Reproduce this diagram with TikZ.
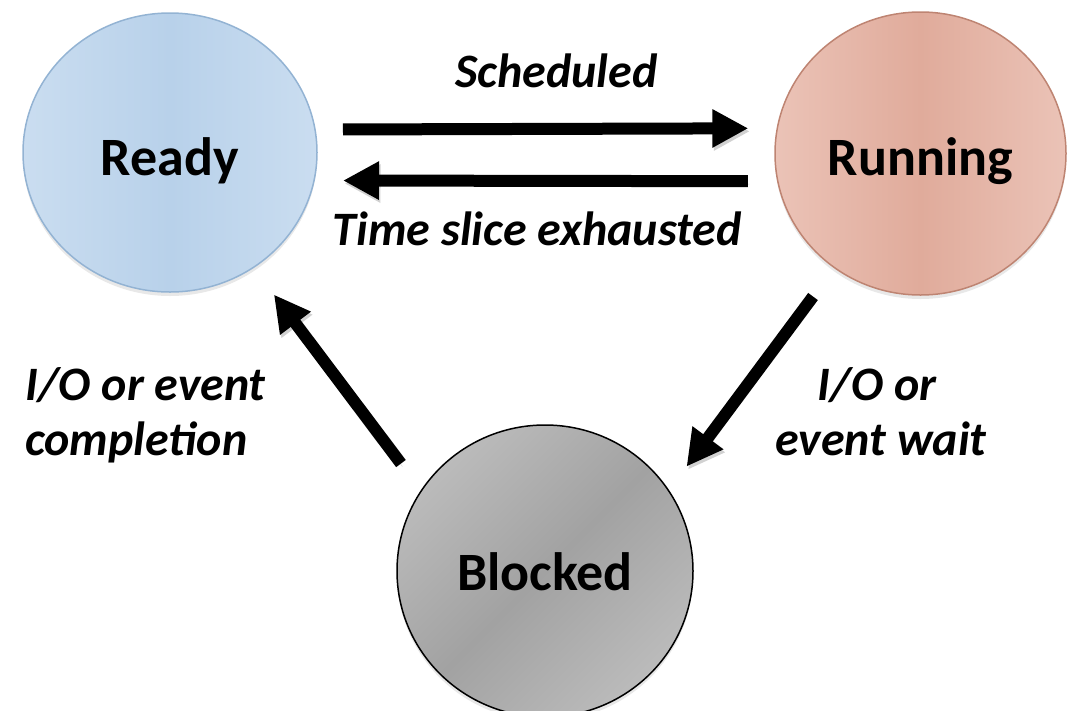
\documentclass[tikz,border=0pt]{standalone}
\usepackage{fontspec}
\setmainfont{Carlito}
\usetikzlibrary{arrows.meta,shapes.geometric,shadows}

\definecolor{readyedge}{HTML}{93B3D3}
\definecolor{readylight}{HTML}{CADDF0}
\definecolor{readymid}{HTML}{B8D1EA}
\definecolor{runedge}{HTML}{BE8472}
\definecolor{runlight}{HTML}{EBC3B7}
\definecolor{runmid}{HTML}{E0AB9B}
\definecolor{blocklight}{HTML}{BBBBBB}
\definecolor{blockmid}{HTML}{A2A2A2}

\begin{document}
\begin{tikzpicture}[x=1pt,y=-1pt,
  state/.style={ellipse, inner sep=0pt, outer sep=0pt, line width=1.5pt,
    font=\fontsize{54}{62}\selectfont\bfseries, text depth=0pt,
    drop shadow={opacity=0.18, shadow xshift=0pt, shadow yshift=-4pt}},
  flow/.style={line width=12pt, -{Triangle[length=36pt,width=36pt]},
    preaction={draw=black, opacity=0.18, -{Triangle[length=36pt,width=36pt]},
      transform canvas={shift={(1.5pt,-3pt)}}}},
  lbl/.style={font=\fontsize{48}{54}\selectfont\bfseries\itshape, inner sep=0pt}]

\useasboundingbox (0,0) rectangle (1071,710);

% the three process states
\node[state, draw=readyedge, left color=readylight, right color=readylight, middle color=readymid,
  minimum width=294pt, minimum height=279pt, text height=45pt] (ready) at (170,152.5) {Ready};
\node[state, draw=runedge, left color=runlight, right color=runlight, middle color=runmid,
  minimum width=291pt, minimum height=283pt, text height=43pt] (running) at (920.5,153.5) {Running};
\node[state, draw=black, left color=blocklight, right color=blocklight, middle color=blockmid,
  shading angle=45,
  minimum width=296pt, minimum height=292pt, text height=38pt] (blocked) at (545,571) {Blocked};

% transitions
\draw[flow, shorten <=28pt, shorten >=29pt] (ready.9.2) -- (running.170.3);
\draw[flow, shorten <=30pt, shorten >=29pt] (running.-169.1) -- (ready.-11.2);
\draw[flow, shorten <=34pt, shorten >=34pt] (blocked.147.7) -- (ready.-54.35);
\draw[flow, shorten <=36pt, shorten >=30pt] (running.-127.47) -- (blocked.33.32);

% transition labels
\node[lbl, anchor=base] (lsched) at (556.5,87) {Scheduled};
\node[lbl, anchor=base] (lslice) at (537,245) {Time slice exhausted};
\node[lbl, anchor=base west] (lcomp1) at (25,400) {I/O or event};
\node[lbl, anchor=base west] (lcomp2) at (25,455) {completion};
\node[lbl, anchor=base] (lwait1) at (877,400) {I/O or};
\node[lbl, anchor=base] (lwait2) at (881,455) {event wait};
\end{tikzpicture}
\end{document}
